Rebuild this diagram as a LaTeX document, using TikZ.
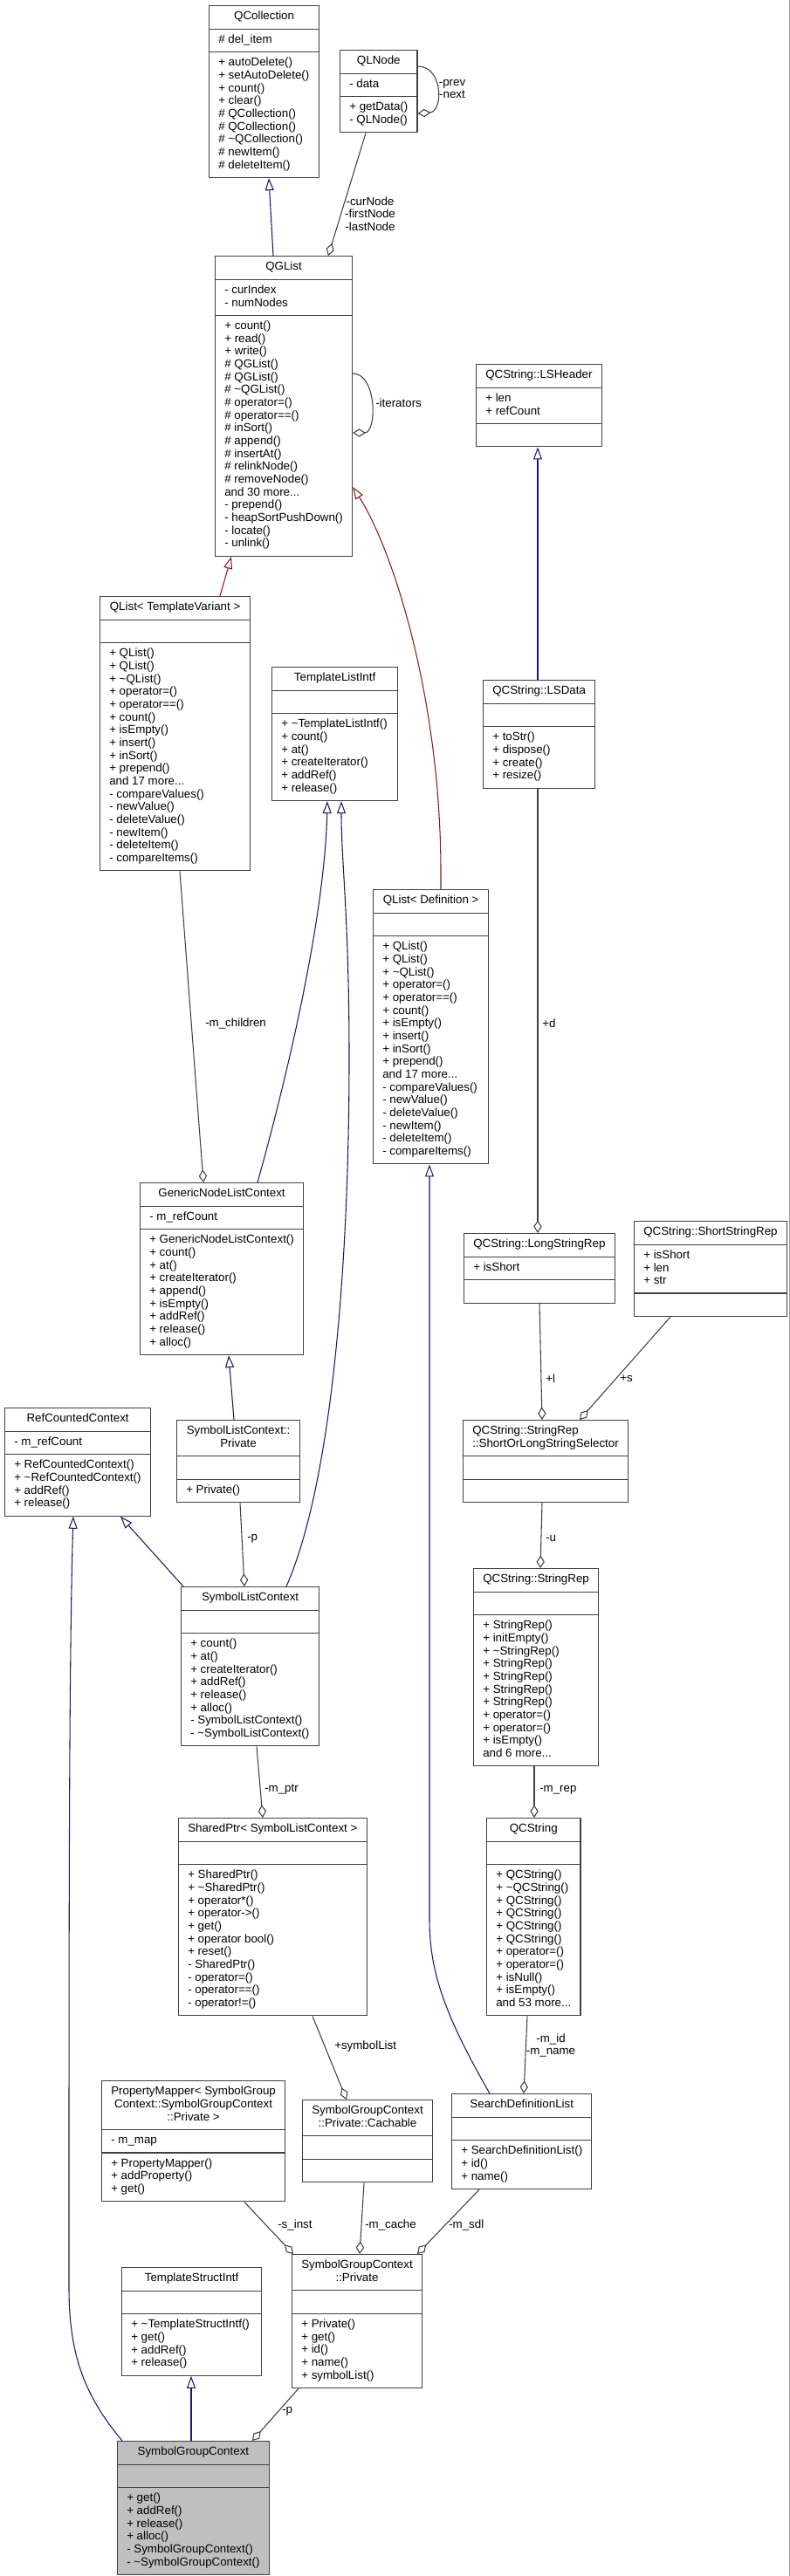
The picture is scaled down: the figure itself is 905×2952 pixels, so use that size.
\documentclass[tikz,border=0pt]{standalone}
\usepackage{fontspec}
\setmainfont{Liberation Sans}
\usetikzlibrary{shapes.multipart,arrows.meta}

\definecolor{navy}{HTML}{191970}
\definecolor{firebrick}{HTML}{8B1A1A}
\definecolor{edgegray}{HTML}{404040}

\newcommand{\mlist}[1]{\begin{tabular}{@{}l@{}}#1\end{tabular}}
\newcommand{\mtitle}[1]{\begin{tabular}{@{}c@{}}#1\end{tabular}}
\newcommand{\tld}{\textasciitilde}

\begin{document}
\begin{tikzpicture}[x=0.75pt, y=-0.75pt,
    cls/.style={rectangle split, rectangle split parts=3,
      rectangle split part align={center,left,left},
      rectangle split empty part height=7.7pt,
      rectangle split empty part depth=3.3pt,
      draw=black!75, line width=0.9pt, fill=white,
      inner xsep=8pt, inner ysep=4pt, anchor=north west,
      font=\fontsize{10}{11}\selectfont},
    lbl/.style={inner sep=0pt, font=\fontsize{10}{11}\selectfont},
    inh/.style={draw=navy, line width=0.8pt, -{Triangle[open, length=10.5pt, width=7.5pt]}},
    inhred/.style={inh, draw=firebrick},
    agg/.style={draw=edgegray, line width=0.8pt, -{Diamond[open, length=11pt, width=7pt]}}]

    \useasboundingbox (0,0) rectangle (905,2952);
    \draw[black!40, line width=0.75pt] (904,0) -- (904,2952);

    % Classes, top to bottom
    \node[cls, minimum width=94.5pt] (qcoll) at (239,6) {\mtitle{QCollection}
      \nodepart{second}\mlist{\# del\_item}
      \nodepart{third}\mlist{+ autoDelete()\\+ setAutoDelete()\\+ count()\\+ clear()\\\# QCollection()\\\# QCollection()\\\# \tld QCollection()\\\# newItem()\\\# deleteItem()}};

    \node[cls, minimum width=66pt] (qlnode) at (389,57) {\mtitle{QLNode}
      \nodepart{second}\mlist{- data}
      \nodepart{third}\mlist{+ getData()\\- QLNode()}};

    \node[cls, minimum width=115.5pt] (qglist) at (246,293) {\mtitle{QGList}
      \nodepart{second}\mlist{- curIndex\\- numNodes}
      \nodepart{third}\mlist{+ count()\\+ read()\\+ write()\\\# QGList()\\\# QGList()\\\# \tld QGList()\\\# operator=()\\\# operator==()\\\# inSort()\\\# append()\\\# insertAt()\\\# relinkNode()\\\# removeNode()\\and 30 more...\\- prepend()\\- heapSortPushDown()\\- locate()\\- unlink()}};

    \node[cls, minimum width=107.25pt] (lsheader) at (545,417) {\mtitle{QCString::LSHeader}
      \nodepart{second}\mlist{+ len\\+ refCount}
      \nodepart{third}};

    \node[cls, minimum width=129pt] (qlisttv) at (114,683) {\mtitle{QList< TemplateVariant >}
      \nodepart{second}
      \nodepart{third}\mlist{+ QList()\\+ QList()\\+ \tld QList()\\+ operator=()\\+ operator==()\\+ count()\\+ isEmpty()\\+ insert()\\+ inSort()\\+ prepend()\\and 17 more...\\- compareValues()\\- newValue()\\- deleteValue()\\- newItem()\\- deleteItem()\\- compareItems()}};

    \node[cls, minimum width=108pt] (tlistintf) at (311,764) {\mtitle{TemplateListIntf}
      \nodepart{second}
      \nodepart{third}\mlist{+ \tld TemplateListIntf()\\+ count()\\+ at()\\+ createIterator()\\+ addRef()\\+ release()}};

    \node[cls, minimum width=96pt] (lsdata) at (553,779) {\mtitle{QCString::LSData}
      \nodepart{second}
      \nodepart{third}\mlist{+ toStr()\\+ dispose()\\+ create()\\+ resize()}};

    \node[cls, minimum width=99pt] (qlistdef) at (427,1019) {\mtitle{QList< Definition >}
      \nodepart{second}
      \nodepart{third}\mlist{+ QList()\\+ QList()\\+ \tld QList()\\+ operator=()\\+ operator==()\\+ count()\\+ isEmpty()\\+ insert()\\+ inSort()\\+ prepend()\\and 17 more...\\- compareValues()\\- newValue()\\- deleteValue()\\- newItem()\\- deleteItem()\\- compareItems()}};

    \node[cls, minimum width=138.75pt] (genctx) at (160,1355) {\mtitle{GenericNodeListContext}
      \nodepart{second}\mlist{- m\_refCount}
      \nodepart{third}\mlist{+ GenericNodeListContext()\\+ count()\\+ at()\\+ createIterator()\\+ append()\\+ isEmpty()\\+ addRef()\\+ release()\\+ alloc()}};

    \node[cls, minimum width=128.25pt] (lsrep) at (531,1413) {\mtitle{QCString::LongStringRep}
      \nodepart{second}\mlist{+ isShort}
      \nodepart{third}};

    \node[cls, minimum width=129.75pt] (ssrep) at (726,1399) {\mtitle{QCString::ShortStringRep}
      \nodepart{second}\mlist{+ isShort\\+ len\\+ str}
      \nodepart{third}};

    \node[cls, minimum width=125.25pt] (refctx) at (5,1613) {\mtitle{RefCountedContext}
      \nodepart{second}\mlist{- m\_refCount}
      \nodepart{third}\mlist{+ RefCountedContext()\\+ \tld RefCountedContext()\\+ addRef()\\+ release()}};

    \node[cls, minimum width=105.75pt] (slpriv) at (202,1627) {\mtitle{SymbolListContext::\\Private}
      \nodepart{second}
      \nodepart{third}\mlist{+ Private()}};

    \node[cls, minimum width=139.5pt] (selector) at (530,1627) {\mlist{QCString::StringRep\\::ShortOrLongStringSelector}
      \nodepart{second}
      \nodepart{third}};

    \node[cls, minimum width=118.5pt] (slctx) at (207,1818) {\mtitle{SymbolListContext}
      \nodepart{second}
      \nodepart{third}\mlist{+ count()\\+ at()\\+ createIterator()\\+ addRef()\\+ release()\\+ alloc()\\- SymbolListContext()\\- \tld SymbolListContext()}};

    \node[cls, minimum width=107.25pt] (strrep) at (542,1797) {\mtitle{QCString::StringRep}
      \nodepart{second}
      \nodepart{third}\mlist{+ StringRep()\\+ initEmpty()\\+ \tld StringRep()\\+ StringRep()\\+ StringRep()\\+ StringRep()\\+ StringRep()\\+ operator=()\\+ operator=()\\+ isEmpty()\\and 6 more...}};

    \node[cls, minimum width=161.25pt] (sharedptr) at (204,2083) {\mtitle{SharedPtr< SymbolListContext >}
      \nodepart{second}
      \nodepart{third}\mlist{+ SharedPtr()\\+ \tld SharedPtr()\\+ operator*()\\+ operator->()\\+ get()\\+ operator bool()\\+ reset()\\- SharedPtr()\\- operator=()\\- operator==()\\- operator!=()}};

    \node[cls, minimum width=79.5pt] (qcstring) at (557,2083) {\mtitle{QCString}
      \nodepart{second}
      \nodepart{third}\mlist{+ QCString()\\+ \tld QCString()\\+ QCString()\\+ QCString()\\+ QCString()\\+ QCString()\\+ operator=()\\+ operator=()\\+ isNull()\\+ isEmpty()\\and 53 more...}};

    \node[cls, minimum width=154.5pt] (propmap) at (116,2384) {\mtitle{PropertyMapper< SymbolGroup\\Context::SymbolGroupContext\\::Private >}
      \nodepart{second}\mlist{- m\_map}
      \nodepart{third}\mlist{+ PropertyMapper()\\+ addProperty()\\+ get()}};

    \node[cls, minimum width=110.25pt] (cachable) at (346,2406) {\mtitle{SymbolGroupContext\\::Private::Cachable}
      \nodepart{second}
      \nodepart{third}};

    \node[cls, minimum width=119.25pt] (sdlist) at (517,2399) {\mtitle{SearchDefinitionList}
      \nodepart{second}
      \nodepart{third}\mlist{+ SearchDefinitionList()\\+ id()\\+ name()}};

    \node[cls, minimum width=110.25pt] (sgcpriv) at (334,2583) {\mtitle{SymbolGroupContext\\::Private}
      \nodepart{second}
      \nodepart{third}\mlist{+ Private()\\+ get()\\+ id()\\+ name()\\+ symbolList()}};

    \node[cls, minimum width=120pt] (tstructintf) at (139,2598) {\mtitle{TemplateStructIntf}
      \nodepart{second}
      \nodepart{third}\mlist{+ \tld TemplateStructIntf()\\+ get()\\+ addRef()\\+ release()}};

    \node[cls, fill=black!25, minimum width=127.5pt] (sgctx) at (134,2797) {\mtitle{SymbolGroupContext}
      \nodepart{second}
      \nodepart{third}\mlist{+ get()\\+ addRef()\\+ release()\\+ alloc()\\- SymbolGroupContext()\\- \tld SymbolGroupContext()}};

    % Inheritance
    \draw[inh] (313,0 |- qglist.north) -- (308,0 |- qcoll.south);
    \draw[inh] (616,0 |- lsdata.north) -- (616,0 |- lsheader.south);
    \draw[inhred] (252,0 |- qlisttv.north) -- (265,0 |- qglist.south);
    \draw[inhred] (505,0 |- qlistdef.north) -- (505,1000) .. controls (505,800) and (450,630) .. (qglist.east |- 0,558);
    \draw[inh] (295,0 |- genctx.north) .. controls (330,1230) and (372,1050) .. (375,0 |- tlistintf.south);
    \draw[inh] (328,0 |- slctx.north) .. controls (380,1700) and (400,1450) .. (400,1213) .. controls (400,1050) and (391,990) .. (391,0 |- tlistintf.south);
    \draw[inh] (268,0 |- slpriv.north) -- (262,0 |- genctx.south);
    \draw[inh] (210,0 |- slctx.north) -- (138,0 |- refctx.south);
    \draw[inh] (140,0 |- sgctx.north) .. controls (92,2740) and (79,2690) .. (79,2620) .. controls (79,2200) and (79,1900) .. (84,0 |- refctx.south);
    \draw[inh] (219,0 |- sgctx.north) -- (219,0 |- tstructintf.south);
    \draw[inh] (561,0 |- sdlist.north) .. controls (510,2310) and (492,2260) .. (492,2200) -- (492,0 |- qlistdef.south);

    % Members
    \draw[agg] (qlnode.east |- 0,76) .. controls (508,76) and (508,128) .. (qlnode.east |- 0,130);
    \draw[agg] (419,0 |- qlnode.south) -- (376,0 |- qglist.north);
    \draw[agg] (qglist.east |- 0,428) .. controls (432,428) and (432,496) .. (qglist.east |- 0,496);
    \draw[agg] (206,0 |- qlisttv.south) -- (233,0 |- genctx.north);
    \draw[agg] (616,0 |- lsdata.south) -- (616,0 |- lsrep.north);
    \draw[agg] (618,0 |- lsrep.south) -- (621,0 |- selector.north);
    \draw[agg] (768,0 |- ssrep.south) -- (664,0 |- selector.north);
    \draw[agg] (621,0 |- selector.south) -- (619,0 |- strrep.north);
    \draw[agg] (275,0 |- slpriv.south) -- (280,0 |- slctx.north);
    \draw[agg] (294,0 |- slctx.south) -- (301,0 |- sharedptr.north);
    \draw[agg] (612,0 |- strrep.south) -- (612,0 |- qcstring.north);
    \draw[agg] (604,0 |- qcstring.south) -- (600,0 |- sdlist.north);
    \draw[agg] (358,0 |- sharedptr.south) -- (397,0 |- cachable.north);
    \draw[agg] (280,0 |- propmap.south) -- (336,0 |- sgcpriv.north);
    \draw[agg] (417,0 |- cachable.south) -- (412,0 |- sgcpriv.north);
    \draw[agg] (549,0 |- sdlist.south) -- (478,0 |- sgcpriv.north);
    \draw[agg] (342,0 |- sgcpriv.south) -- (289,0 |- sgctx.north);

    % Member names
    \node[lbl, align=center] (lprev) at (518,102) {-prev\\-next};
    \node[lbl, align=center] (lnodes) at (424,245) {-curNode\\-firstNode\\-lastNode};
    \node[lbl, anchor=west] (liter) at (430,462) {-iterators};
    \node[lbl, anchor=west] (lchildren) at (235,1173) {-m\_children};
    \node[lbl, anchor=west] (ld) at (621,1173) {+d};
    \node[lbl, anchor=west] (ll) at (625,1580) {+l};
    \node[lbl, anchor=west] (ls) at (710,1580) {+s};
    \node[lbl, anchor=west] (lu) at (625,1763) {-u};
    \node[lbl, anchor=west] (lp) at (283,1763) {-p};
    \node[lbl, anchor=west] (lptr) at (303,2051) {-m\_ptr};
    \node[lbl, anchor=west] (lrep) at (618,2051) {-m\_rep};
    \node[lbl, align=center] (lid) at (631,2344) {-m\_id\\-m\_name};
    \node[lbl, anchor=west] (lsymlist) at (383,2345) {+symbolList};
    \node[lbl, anchor=west] (linst) at (318,2550) {-s\_inst};
    \node[lbl, anchor=west] (lcache) at (418,2550) {-m\_cache};
    \node[lbl, anchor=west] (lsdl) at (514,2550) {-m\_sdl};
    \node[lbl, anchor=west] (lpp) at (323,2763) {-p};
\end{tikzpicture}
\end{document}
